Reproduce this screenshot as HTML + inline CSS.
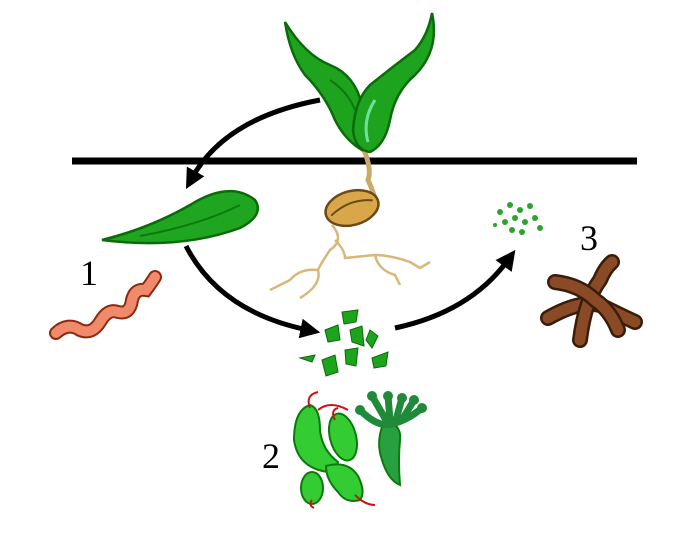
<!DOCTYPE html>
<html><head><style>html,body{margin:0;padding:0;background:#fff}svg{display:block}</style></head>
<body>
<svg width="680" height="543" viewBox="0 0 680 543" xmlns="http://www.w3.org/2000/svg">
<defs>
<marker id="ah" markerWidth="4" markerHeight="4" refX="1.5" refY="2" orient="auto" markerUnits="strokeWidth"><path d="M0,0 L4,2 L0,4 z" fill="#000"/></marker>
</defs>
<line x1="72" y1="161" x2="637" y2="161" stroke="#000" stroke-width="7"/>
<path d="M320,100 Q225,118 192,178" fill="none" stroke="#000" stroke-width="5" marker-end="url(#ah)"/>
<path d="M186,246 Q220,312 308,330" fill="none" stroke="#000" stroke-width="5" marker-end="url(#ah)"/>
<path d="M395,328 Q470,312 508,260" fill="none" stroke="#000" stroke-width="5" marker-end="url(#ah)"/>
<g fill="none" stroke="#d9b77a" stroke-width="2.5">
<path d="M332,225 Q345,240 330,250 Q320,265 318,270 Q300,268 290,280 L270,290"/>
<path d="M318,270 Q322,285 300,298"/>
<path d="M335,240 Q345,250 345,258 L375,255 Q390,255 410,262 L420,268 L430,262"/>
<path d="M375,255 Q378,270 395,275 L400,285"/>
</g>
<path d="M364,150 Q372,170 368,180 Q375,195 376,205" fill="none" stroke="#c9a96a" stroke-width="5"/>
<g transform="rotate(-15 352 208)">
<ellipse cx="352" cy="208" rx="27" ry="17" fill="#d9a64a" stroke="#6b4a1a" stroke-width="2.5"/>
<path d="M330,210 Q352,198 374,206" fill="none" stroke="#6b4a1a" stroke-width="2"/>
</g>
<path d="M285,22 Q305,55 330,65 Q355,75 362,105 Q368,130 362,150 Q345,140 335,120 Q325,95 305,75 Q290,55 285,22 z" fill="#1ea31e" stroke="#0b6b0b" stroke-width="2.5"/>
<path d="M432,13 Q440,50 415,75 Q395,92 390,120 Q385,145 370,152 Q355,150 353,130 Q355,100 370,85 Q395,65 415,50 Q428,35 432,13 z" fill="#1ea31e" stroke="#0b6b0b" stroke-width="2.5"/>
<path d="M375,100 Q362,120 368,142" fill="none" stroke="#6fe0a0" stroke-width="3"/>
<path d="M330,80 Q348,92 355,110" fill="none" stroke="#0d7a0d" stroke-width="2"/>
<path d="M102,240 Q150,228 190,205 Q230,180 255,200 Q265,215 240,228 Q180,250 102,240 z" fill="#1fa51f" stroke="#0b6b0b" stroke-width="2.5"/>
<path d="M140,236 Q200,225 240,205" fill="none" stroke="#0d7a0d" stroke-width="2"/>
<text x="80" y="285" font-family="Liberation Serif, serif" font-size="36">1</text>
<text x="262" y="468" font-family="Liberation Serif, serif" font-size="36">2</text>
<text x="580" y="250" font-family="Liberation Serif, serif" font-size="36">3</text>
<path d="M56,333 Q68,322 80,330 Q92,335 100,322 Q108,308 118,312 Q130,315 132,300 Q135,288 146,290 Q152,282 155,277" fill="none" stroke="#8a2a10" stroke-width="14" stroke-linecap="round"/>
<path d="M56,333 Q68,322 80,330 Q92,335 100,322 Q108,308 118,312 Q130,315 132,300 Q135,288 146,290 Q152,282 155,277" fill="none" stroke="#f08a6a" stroke-width="10" stroke-linecap="round"/>
<g fill="#1ca51c" stroke="#0b6b0b" stroke-width="1">
<path d="M342,312 L358,310 L356,322 L344,324z"/><path d="M325,330 L338,325 L340,340 L328,342z"/>
<path d="M350,330 L362,326 L364,346 L352,342z"/><path d="M370,330 L378,336 L372,348 L366,340z"/>
<path d="M300,358 L315,355 L312,362z"/><path d="M322,360 L335,355 L338,372 L326,376z"/>
<path d="M345,350 L358,348 L356,366 L346,364z"/><path d="M372,358 L388,352 L386,366 L374,368z"/>
</g>
<g fill="#2aa52a">
<circle cx="500" cy="212" r="3"/><circle cx="510" cy="205" r="3"/><circle cx="520" cy="210" r="3"/><circle cx="530" cy="206" r="3"/>
<circle cx="505" cy="222" r="3"/><circle cx="515" cy="218" r="3"/><circle cx="525" cy="222" r="3"/><circle cx="535" cy="218" r="3"/>
<circle cx="512" cy="230" r="3"/><circle cx="522" cy="232" r="3"/><circle cx="540" cy="228" r="3"/><circle cx="495" cy="225" r="2"/>
</g>
<g fill="none" stroke-linecap="round">
<path d="M548,318 Q580,300 600,305 Q620,315 635,322" stroke="#3a1c0a" stroke-width="16"/>
<path d="M548,318 Q580,300 600,305 Q620,315 635,322" stroke="#8a4a25" stroke-width="11"/>
<path d="M580,340 Q585,300 600,280 Q605,268 612,262" stroke="#3a1c0a" stroke-width="16"/>
<path d="M580,340 Q585,300 600,280 Q605,268 612,262" stroke="#8a4a25" stroke-width="11"/>
<path d="M555,282 Q580,285 595,300 Q610,310 618,330" stroke="#3a1c0a" stroke-width="16"/>
<path d="M555,282 Q580,285 595,300 Q610,310 618,330" stroke="#8a4a25" stroke-width="11"/>
</g>
<g stroke="#0b7a0b" stroke-width="2">
<path d="M310,405 Q294,410 294,440 Q298,468 328,472 Q336,470 338,462 Q322,450 320,430 Q320,408 310,405z" fill="#33cc33"/>
<path d="M326,466 Q348,460 358,476 Q366,492 360,500 Q346,504 338,492 Q326,480 326,466z" fill="#33cc33"/>
<ellipse cx="343" cy="437" rx="13" ry="24" transform="rotate(-15 343 437)" fill="#33cc33"/>
<ellipse cx="312" cy="488" rx="11" ry="16" fill="#33cc33"/>
<path d="M385,420 Q375,440 382,460 Q388,480 400,485 Q398,460 400,440 Q402,425 385,420z" fill="#28a040"/>
</g>
<g fill="none" stroke="#1e8a3a" stroke-width="7" stroke-linecap="round">
<path d="M360,410 Q378,428 392,424 Q408,420 422,408"/>
<path d="M372,396 L386,420 M388,396 L390,420 M402,398 L396,420 M414,400 L402,420"/>
</g>
<g fill="#1e8a3a"><circle cx="372" cy="396" r="5"/><circle cx="388" cy="396" r="5"/><circle cx="402" cy="398" r="5"/><circle cx="414" cy="400" r="5"/><circle cx="360" cy="410" r="5"/><circle cx="422" cy="408" r="5"/></g>
<g fill="none" stroke="#d01010" stroke-width="2">
<path d="M310,408 Q305,395 318,392"/><path d="M318,410 Q330,400 348,410"/><path d="M335,420 Q330,410 338,408"/>
<path d="M312,500 Q308,505 314,508"/><path d="M355,495 Q365,505 375,505"/>
</g>
</svg>
</body></html>
